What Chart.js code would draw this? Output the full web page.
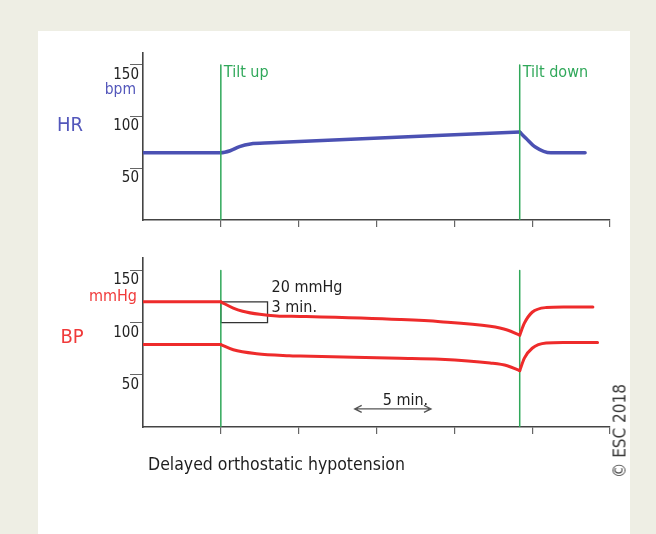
<!DOCTYPE html>
<html>
<head>
<meta charset="utf-8">
<script src="https://cdn.jsdelivr.net/npm/chart.js@4.4.1/dist/chart.umd.min.js"></script>
<style>
  html, body { margin: 0; padding: 0; }
  body {
    width: 656px; height: 534px; overflow: hidden; position: relative;
    background: #eeeee4;
    font-family: 'DejaVu Sans Condensed', 'DejaVu Sans', sans-serif;
  }
  #panel { position: absolute; left: 38px; top: 31px; width: 592px; height: 503px; background: #fff; }
  #hr { position: absolute; left: 0; top: 0; }
  #bp { position: absolute; left: 0; top: 240px; }
  #caption {
    position: absolute; left: 148px; top: 456px;
    font-size: 17.5px; line-height: 1; color: #1e1e1e; white-space: nowrap;
  }
  #copy {
    position: absolute; left: 620px; top: 431px;
    transform: translate(-50%, -50%) rotate(-90deg);
    font-size: 17px; line-height: 1; color: #3a3a3a; white-space: nowrap;
  }
</style>
</head>
<body>
<div id="panel"></div>
<canvas id="hr" width="656" height="240"></canvas>
<canvas id="bp" width="656" height="294"></canvas>
<div id="caption">Delayed orthostatic hypotension</div>
<div id="copy">© ESC 2018</div>

<script>
// ── Data (time in minutes) ────────────────────────────────────────────
const hrMin  = [0, 5, 5.6, 6.2, 6.9, 8.2, 24.2, 24.6, 25.2, 26.2, 28.4];
const hrBpm  = [65, 65, 67, 71, 73.6, 74.7, 85, 79, 70.6, 65, 65];

const sysMin   = [0, 5, 5.8, 6.4, 7.5, 8.6, 10.1, 16.5, 19.1, 22.3, 23.4, 24.2, 24.5, 25, 25.9, 27, 28.9];
const sysMmHg  = [120, 120, 114, 111, 108, 106.5, 106, 103, 101, 96.5, 93, 88, 99.5, 110, 114.5, 115, 115];
const diaMin   = [0, 5, 5.8, 7.3, 9.4, 10.1, 16.5, 19.1, 22.3, 23.4, 24.2, 24.5, 25, 25.9, 27, 29.2];
const diaMmHg  = [79, 79, 74, 70.2, 68.3, 68, 66, 65, 61.3, 58.7, 54, 66, 75.5, 80.5, 81, 81];

const tiltMin    = [5, 24.2];
const tiltLabels = ['Tilt up', 'Tilt down'];
const tiltTop    = 150;

const boxMin  = [5, 8];       // 3 min
const boxMmHg = [120, 100];   // 20 mmHg
const barMin  = [13.6, 18.5]; // "5 min." scale bar
const barMmHg = 17.3;

const timeTicks = [5, 10, 15, 20, 25, 30];
const valueTicks = [50, 100, 150];
const yMax = 162;

// ── Styling ───────────────────────────────────────────────────────────
const FONT = "'DejaVu Sans Condensed', 'DejaVu Sans', sans-serif";
const BLUE = '#4b51b3', BLUE_TXT = '#5357bb';
const RED = '#ee2b2b', RED_TXT = '#f03a3a';
const GREEN = '#30a85a';
Chart.defaults.font.family = FONT;

// split a series into pieces at the given times so the curve can kink there
function pieces(xs, ys, cuts) {
  const out = [[]];
  xs.forEach((x, i) => {
    const p = { x, y: ys[i] };
    out[out.length - 1].push(p);
    if (cuts.includes(x) && i > 0 && i < xs.length - 1) out.push([p]);
  });
  return out;
}

function lineSet(data, color, width, extra) {
  return Object.assign({
    data, showLine: true, borderColor: color, borderWidth: width,
    pointRadius: 0, fill: false, borderCapStyle: 'round', borderJoinStyle: 'round'
  }, extra || {});
}

function curveSets(xs, ys, cuts, color, width) {
  return pieces(xs, ys, cuts).map(d => lineSet(d, color, width, { cubicInterpolationMode: 'monotone' }));
}

function tiltSets() {
  return tiltMin.map(m => lineSet([{ x: m, y: tiltTop }, { x: m, y: 0 }], GREEN, 1.5, { borderCapStyle: 'butt' }));
}

function scales(xHeight) {
  return {
    x: {
      type: 'linear', min: 0, max: 30,
      afterBuildTicks: s => { s.ticks = timeTicks.map(v => ({ value: v })); },
      ticks: { display: false },
      grid: { drawOnChartArea: false, drawTicks: true, tickLength: 7, color: '#666', lineWidth: 1.2 },
      border: { color: '#444', width: 1.6 },
      afterFit: s => { s.height = xHeight; }
    },
    y: {
      type: 'linear', min: 0, max: yMax,
      afterBuildTicks: s => { s.ticks = valueTicks.map(v => ({ value: v })); },
      ticks: { padding: -9, labelOffset: 10, color: '#222', font: { size: 15 }, autoSkip: false },
      grid: { drawOnChartArea: false, drawTicks: true, tickLength: 13, color: '#666', lineWidth: 1 },
      border: { color: '#444', width: 1.6 },
      afterFit: s => { s.width = 143; }
    }
  };
}

// ── Annotation plugin: labels, box text, scale bar ────────────────────
const decor = {
  id: 'decor',
  afterDatasetsDraw(chart, args, opts) {
    const ctx = chart.ctx, xs = chart.scales.x, ys = chart.scales.y;
    ctx.save();
    ctx.textBaseline = 'alphabetic';
    (opts.texts || []).forEach(t => {
      ctx.font = t.font;
      ctx.fillStyle = t.color;
      ctx.textAlign = t.align || 'left';
      ctx.fillText(t.text, t.x, t.y);
    });
    if (opts.tiltText) {
      ctx.font = '16px ' + FONT;
      ctx.fillStyle = GREEN;
      ctx.textAlign = 'left';
      tiltMin.forEach((m, i) => {
        ctx.fillText(tiltLabels[i], xs.getPixelForValue(m) + 3, ys.getPixelForValue(tiltTop) + 12.5);
      });
    }
    if (opts.box) {
      const bx = xs.getPixelForValue(boxMin[1]) + 4;
      const by = ys.getPixelForValue(boxMmHg[0]);
      ctx.font = '16px ' + FONT;
      ctx.fillStyle = '#1e1e1e';
      ctx.textAlign = 'left';
      ctx.fillText('20 mmHg', bx, by - 10);
      ctx.fillText('3 min.', bx, by + 10);
    }
    if (opts.bar) {
      const x1 = xs.getPixelForValue(barMin[0]);
      const x2 = xs.getPixelForValue(barMin[1]);
      const y = ys.getPixelForValue(barMmHg);
      ctx.strokeStyle = '#555';
      ctx.lineWidth = 1.3;
      ctx.beginPath();
      ctx.moveTo(x1, y); ctx.lineTo(x2, y);
      ctx.moveTo(x1 + 7, y - 3.5); ctx.lineTo(x1, y); ctx.lineTo(x1 + 7, y + 3.5);
      ctx.moveTo(x2 - 7, y - 3.5); ctx.lineTo(x2, y); ctx.lineTo(x2 - 7, y + 3.5);
      ctx.stroke();
      ctx.font = '16px ' + FONT;
      ctx.fillStyle = '#1e1e1e';
      ctx.textAlign = 'left';
      ctx.fillText('5 min.', x1 + 28, y - 4);
    }
    ctx.restore();
  }
};

// ── Heart rate panel ──────────────────────────────────────────────────
new Chart(document.getElementById('hr'), {
  type: 'scatter',
  data: {
    datasets: [
      ...tiltSets(),
      ...curveSets(hrMin, hrBpm, [tiltMin[1]], BLUE, 3.5)
    ]
  },
  options: {
    responsive: false, animation: false,
    layout: { padding: { top: 52.5, right: 46, left: 0, bottom: 0 } },
    plugins: {
      legend: { display: false }, tooltip: { enabled: false },
      decor: {
        tiltText: true,
        texts: [
          { text: 'HR', x: 70, y: 131, font: '20px ' + FONT, color: BLUE_TXT, align: 'center' },
          { text: 'bpm', x: 136, y: 94, font: '15.5px ' + FONT, color: BLUE_TXT, align: 'right' }
        ]
      }
    },
    scales: scales(20)
  },
  plugins: [decor]
});

// ── Blood pressure panel ──────────────────────────────────────────────
new Chart(document.getElementById('bp'), {
  type: 'scatter',
  data: {
    datasets: [
      ...curveSets(sysMin, sysMmHg, tiltMin, RED, 3),
      ...curveSets(diaMin, diaMmHg, tiltMin, RED, 3),
      ...tiltSets(),
      lineSet([
        { x: boxMin[0], y: boxMmHg[0] }, { x: boxMin[1], y: boxMmHg[0] },
        { x: boxMin[1], y: boxMmHg[1] }, { x: boxMin[0], y: boxMmHg[1] },
        { x: boxMin[0], y: boxMmHg[0] }
      ], '#333', 1.3, { borderCapStyle: 'butt', borderJoinStyle: 'miter' })
    ]
  },
  options: {
    responsive: false, animation: false,
    layout: { padding: { top: 18, right: 46, left: 0, bottom: 0 } },
    plugins: {
      legend: { display: false }, tooltip: { enabled: false },
      decor: {
        box: true, bar: true,
        texts: [
          { text: 'BP', x: 72, y: 102.5, font: '20px ' + FONT, color: RED_TXT, align: 'center' },
          { text: 'mmHg', x: 137, y: 61, font: '16px ' + FONT, color: RED_TXT, align: 'right' }
        ]
      }
    },
    scales: scales(107)
  },
  plugins: [decor]
});
</script>
</body>
</html>
